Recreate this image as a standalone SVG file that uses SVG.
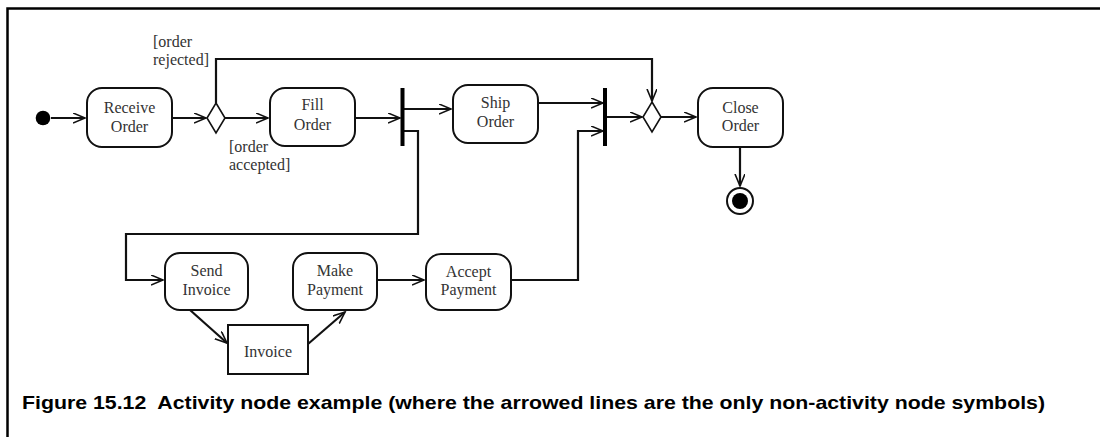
<svg xmlns="http://www.w3.org/2000/svg" width="1100" height="437" viewBox="0 0 1100 437">
<style>
.frame{fill:none;stroke:#000;stroke-width:2.5}
.act{fill:#fff;stroke:#111;stroke-width:2}
.obj{fill:#fff;stroke:#111;stroke-width:2}
.lbl{font-family:"Liberation Serif","Times New Roman",serif;font-size:16px;fill:#333;text-anchor:middle}
.guard{font-family:"Liberation Serif","Times New Roman",serif;font-size:16px;fill:#333}
.cap{font-family:"Liberation Sans",Arial,sans-serif;font-size:18.5px;font-weight:bold;fill:#000}
.edge{fill:none;stroke:#111;stroke-width:2.2;marker-end:url(#arr)}
.bar{fill:#000}
.dec{fill:#fff;stroke:#111;stroke-width:1.6}
</style>
<defs>
<marker id="arr" markerWidth="14" markerHeight="12" refX="12" refY="5" orient="auto" markerUnits="userSpaceOnUse">
<path d="M0,0 L12,5 L0,10" fill="none" stroke="#111" stroke-width="1.6"/>
</marker>
</defs>
<rect width="1100" height="437" fill="#fff"/>
<path class="frame" d="M7.5,437 L7.5,8.5 L1100,8.5"/>

<g id="connectors">
<path class="edge" d="M51,118 L85,118"/>
<path class="edge" d="M172,118 L206,118"/>
<path class="edge" d="M225,118 L268,118"/>
<path class="edge" d="M216,103 L216,59 L652,59 L652,101"/>
<path class="edge" d="M355,118 L400,118"/>
<path class="edge" d="M404,109 L451,109"/>
<path class="edge" d="M404,131 L418,131 L418,234 L126,234 L126,280 L163,280"/>
<path class="edge" d="M190,310 L227,343"/>
<path class="edge" d="M308,344 L345,312"/>
<path class="edge" d="M377,280 L424,280"/>
<path class="edge" d="M538,103 L603,103"/>
<path class="edge" d="M511,280 L578,280 L578,131 L603,131"/>
<path class="edge" d="M607,117 L642,117"/>
<path class="edge" d="M661,117 L696,117"/>
<path class="edge" d="M740,147 L740,186"/>
</g>

<g id="initial"><circle cx="43" cy="118" r="7.3" fill="#000"/></g>

<g id="receive-order">
<rect class="act" x="87" y="88" width="85" height="59" rx="15"/>
<text class="lbl" x="129.5" y="113">Receive</text>
<text class="lbl" x="129.5" y="132">Order</text>
</g>

<g id="decision1"><path class="dec" d="M216,103 L225,118 L216,133 L207,118 Z"/></g>

<g id="guard-rejected">
<text class="guard" x="153" y="47">[order</text>
<text class="guard" x="153" y="65">rejected]</text>
</g>
<g id="guard-accepted">
<text class="guard" x="229" y="152">[order</text>
<text class="guard" x="229" y="170">accepted]</text>
</g>

<g id="fill-order">
<rect class="act" x="270" y="88" width="85" height="58" rx="15"/>
<text class="lbl" x="312.5" y="110">Fill</text>
<text class="lbl" x="312.5" y="130">Order</text>
</g>

<g id="fork"><rect class="bar" x="400.5" y="88" width="4" height="58"/></g>

<g id="ship-order">
<rect class="act" x="453" y="85" width="85" height="58" rx="15"/>
<text class="lbl" x="495.5" y="108">Ship</text>
<text class="lbl" x="495.5" y="127">Order</text>
</g>

<g id="join"><rect class="bar" x="603" y="88" width="4" height="58"/></g>

<g id="decision2"><path class="dec" d="M652,102 L661,117 L652,132 L643,117 Z"/></g>

<g id="close-order">
<rect class="act" x="698" y="88" width="85" height="59" rx="15"/>
<text class="lbl" x="740.5" y="113">Close</text>
<text class="lbl" x="740.5" y="131">Order</text>
</g>

<g id="final">
<circle cx="740" cy="201" r="13" fill="#fff" stroke="#111" stroke-width="2"/>
<circle cx="740" cy="201" r="8" fill="#000"/>
</g>

<g id="send-invoice">
<rect class="act" x="165" y="253" width="83" height="57" rx="15"/>
<text class="lbl" x="206.5" y="276">Send</text>
<text class="lbl" x="206.5" y="295">Invoice</text>
</g>

<g id="invoice">
<rect class="obj" x="228" y="325" width="80" height="49"/>
<text class="lbl" x="268" y="357">Invoice</text>
</g>

<g id="make-payment">
<rect class="act" x="293" y="253" width="84" height="57" rx="15"/>
<text class="lbl" x="335" y="276">Make</text>
<text class="lbl" x="335" y="295">Payment</text>
</g>

<g id="accept-payment">
<rect class="act" x="426" y="254" width="85" height="56" rx="15"/>
<text class="lbl" x="468.5" y="277">Accept</text>
<text class="lbl" x="468.5" y="295">Payment</text>
</g>

<text class="cap" x="22" y="409" textLength="1023" lengthAdjust="spacingAndGlyphs" xml:space="preserve">Figure 15.12  Activity node example (where the arrowed lines are the only non-activity node symbols)</text>
</svg>
